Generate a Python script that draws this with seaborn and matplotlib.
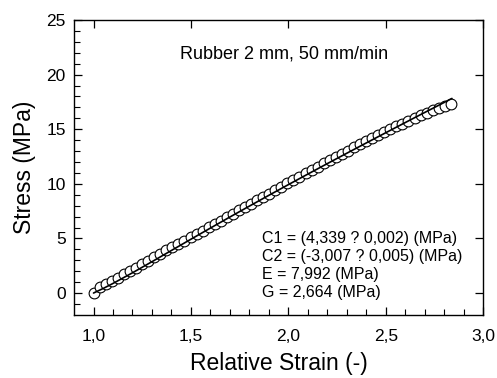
import matplotlib
matplotlib.use("Agg")
import matplotlib.pyplot as plt
import seaborn as sns
import pandas as pd

# measured points (relative strain, stress in MPa)
strain = [1.000, 1.031, 1.062, 1.093, 1.124, 1.156, 1.187, 1.218, 1.249, 1.280,
          1.311, 1.342, 1.373, 1.404, 1.435, 1.467, 1.498, 1.529, 1.560, 1.591,
          1.622, 1.653, 1.684, 1.715, 1.746, 1.778, 1.809, 1.840, 1.871, 1.902,
          1.933, 1.964, 1.995, 2.026, 2.057, 2.089, 2.120, 2.151, 2.182, 2.213,
          2.244, 2.275, 2.306, 2.337, 2.368, 2.400, 2.431, 2.462, 2.493, 2.524,
          2.555, 2.586, 2.617, 2.648, 2.679, 2.711, 2.742, 2.773, 2.804, 2.835]
stress = [0.00, 0.55, 0.83, 1.11, 1.41, 1.72, 2.02, 2.33, 2.65, 2.96,
          3.28, 3.60, 3.91, 4.20, 4.50, 4.81, 5.11, 5.42, 5.72, 6.02,
          6.32, 6.63, 6.94, 7.25, 7.56, 7.87, 8.18, 8.49, 8.80, 9.11,
          9.42, 9.73, 10.04, 10.35, 10.66, 10.98, 11.28, 11.58, 11.88, 12.18,
          12.47, 12.76, 13.05, 13.34, 13.63, 13.92, 14.19, 14.46, 14.73, 15.00,
          15.26, 15.52, 15.77, 16.02, 16.26, 16.50, 16.73, 16.95, 17.16, 17.35]

# Mooney-Rivlin fit curve
fit_strain = [1.00, 1.05, 1.10, 1.20, 1.30, 1.40, 1.50, 1.60, 1.70, 1.80, 1.90,
              2.00, 2.10, 2.20, 2.30, 2.40, 2.50, 2.60, 2.70, 2.80, 2.84]
fit_stress = [0.000, 0.422, 0.879, 1.854, 2.870, 3.899, 4.928, 5.949, 6.960, 7.959, 8.947,
              9.924, 10.891, 11.850, 12.799, 13.742, 14.677, 15.608, 16.532, 17.451, 17.818]

x_ticks = [1.0, 1.5, 2.0, 2.5, 3.0]
x_tick_labels = ["1,0", "1,5", "2,0", "2,5", "3,0"]
y_ticks = [0, 5, 10, 15, 20, 25]

title_text = "Rubber 2 mm, 50 mm/min"
fit_text = ["C1 = (4,339 ? 0,002) (MPa)",
            "C2 = (-3,007 ? 0,005) (MPa)",
            "E = 7,992 (MPa)",
            "G = 2,664 (MPa)"]

sns.set_style("ticks")
plt.rcParams["font.family"] = ["Liberation Sans", "DejaVu Sans"]
plt.rcParams["text.color"] = "black"
plt.rcParams["axes.labelcolor"] = "black"

data = pd.DataFrame({"strain": strain, "stress": stress})
fit = pd.DataFrame({"strain": fit_strain, "stress": fit_stress})

fig = plt.figure(figsize=(4.97, 3.78), dpi=100)
ax = fig.add_axes([0.149, 0.167, 0.823, 0.780])

sns.scatterplot(data=data, x="strain", y="stress", ax=ax, marker="o",
                s=60, facecolor="white", edgecolor="black", linewidth=0.8, zorder=2)
sns.lineplot(data=fit, x="strain", y="stress", ax=ax, color="black",
             linewidth=1.2, zorder=3)

ax.set_xlim(0.9, 3.0)
ax.set_ylim(-2, 25)
ax.set_xticks(x_ticks)
ax.set_xticklabels(x_tick_labels)
ax.set_yticks(y_ticks)
ax.set_xticks([1.1, 1.2, 1.3, 1.4, 1.6, 1.7, 1.8, 1.9, 2.1, 2.2, 2.3, 2.4, 2.6, 2.7, 2.8, 2.9], minor=True)
ax.set_yticks([-1, 1, 2, 3, 4, 6, 7, 8, 9, 11, 12, 13, 14, 16, 17, 18, 19, 21, 22, 23, 24], minor=True)

ax.tick_params(which="major", direction="in", length=6, width=0.9, labelsize=12.5,
               top=True, right=True, labeltop=False, labelright=False,
               colors="black", labelcolor="black")
ax.tick_params(axis="x", which="major", pad=10)
ax.tick_params(axis="y", which="major", pad=6)
ax.tick_params(which="minor", direction="in", length=4, width=0.8,
               top=False, right=False, colors="black")

for s in ax.spines.values():
    s.set_visible(True)
    s.set_linewidth(1.0)
    s.set_color("black")

ax.set_xlabel("Relative Strain (-)", fontsize=16.5)
ax.set_ylabel("Stress (MPa)", fontsize=16.5)
ax.xaxis.set_label_coords(0.5, -0.125)
ax.yaxis.set_label_coords(-0.093, 0.5)

ax.text(1.98, 21.9, title_text, ha="center", va="center", fontsize=13)
for i, line in enumerate(fit_text):
    ax.text(1.865, 5.0 - 1.66 * i, line, ha="left", va="center", fontsize=11.5)

fig.savefig("out.png", dpi=100)
plt.close(fig)
